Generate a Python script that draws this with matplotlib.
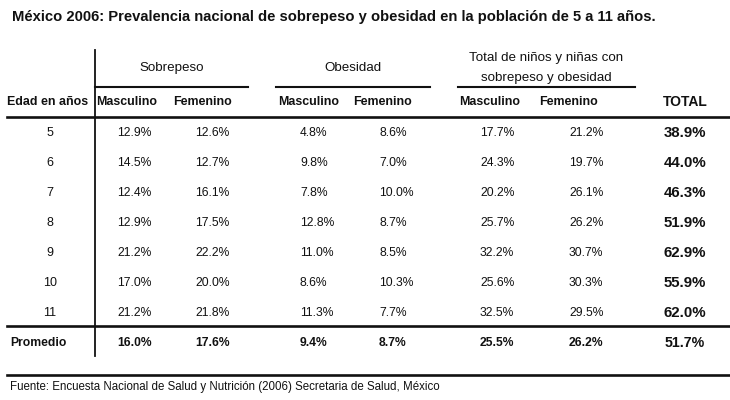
import matplotlib
matplotlib.use("Agg")
import matplotlib.pyplot as plt

plt.rcParams['font.family'] = ['Liberation Sans Narrow', 'Liberation Sans', 'DejaVu Sans']

title = "México 2006: Prevalencia nacional de sobrepeso y obesidad en la población de 5 a 11 años."
source = "Fuente: Encuesta Nacional de Salud y Nutrición (2006) Secretaria de Salud, México"

groups = ["Sobrepeso", "Obesidad", "Total de niños y niñas con\nsobrepeso y obesidad"]
sub_headers = ["Masculino", "Femenino", "Masculino", "Femenino", "Masculino", "Femenino", "TOTAL"]

ages = ["5", "6", "7", "8", "9", "10", "11"]
sobre_m = ["12.9%", "14.5%", "12.4%", "12.9%", "21.2%", "17.0%", "21.2%"]
sobre_f = ["12.6%", "12.7%", "16.1%", "17.5%", "22.2%", "20.0%", "21.8%"]
obes_m = ["4.8%", "9.8%", "7.8%", "12.8%", "11.0%", "8.6%", "11.3%"]
obes_f = ["8.6%", "7.0%", "10.0%", "8.7%", "8.5%", "10.3%", "7.7%"]
tot_m = ["17.7%", "24.3%", "20.2%", "25.7%", "32.2%", "25.6%", "32.5%"]
tot_f = ["21.2%", "19.7%", "26.1%", "26.2%", "30.7%", "30.3%", "29.5%"]
total = ["38.9%", "44.0%", "46.3%", "51.9%", "62.9%", "55.9%", "62.0%"]

avg_label = "Promedio"
avg_values = ["16.0%", "17.6%", "9.4%", "8.7%", "25.5%", "26.2%", "51.7%"]

columns = [sobre_m, sobre_f, obes_m, obes_f, tot_m, tot_f, total]

# layout in pixel units
W, H = 730, 400
col_left = [117, 195, 300, 379, 480, 569]
total_cx = 685
head_cx = [127, 203, 309, 383, 490, 568, 685]
group_span = [(95, 248), (276, 430), (458, 635)]
row_y0, row_dy = 133, 30
ink = "#111111"

fig = plt.figure(figsize=(W / 100, H / 100), dpi=100)
ax = fig.add_axes([0, 0, 1, 1])
ax.set_xlim(0, W)
ax.set_ylim(H, 0)
ax.axis("off")

ax.text(12, 17, title, fontsize=10.6, fontweight="bold", va="center", ha="left", color=ink)

# group headers
for (x0, x1), g in zip(group_span, groups):
    ax.text((x0 + x1) / 2, 68, g, fontsize=9.6, ha="center", va="center", color=ink,
            linespacing=1.85)
    ax.plot([x0, x1], [87, 87], color=ink, lw=1.5)

# column headers
ax.text(7, 102, "Edad en años", fontsize=8.9, fontweight="bold", va="center", ha="left", color=ink)
for cx, h in zip(head_cx, sub_headers):
    fs = 10 if h == "TOTAL" else 8.9
    ax.text(cx, 102, h, fontsize=fs, fontweight="bold", va="center", ha="center", color=ink)

# rows
for i, age in enumerate(ages):
    y = row_y0 + i * row_dy
    ax.text(50, y, age, fontsize=9, ha="center", va="center", color=ink)
    for j, col in enumerate(columns[:-1]):
        ax.text(col_left[j], y, col[i], fontsize=8.7, ha="left", va="center", color=ink)
    ax.text(total_cx, y, total[i], fontsize=10.8, fontweight="bold",
            ha="center", va="center", color=ink)

# average row
ay = 343
ax.text(10, ay, avg_label, fontsize=8.7, fontweight="bold", ha="left", va="center", color=ink)
for j, v in enumerate(avg_values[:-1]):
    ax.text(col_left[j], ay, v, fontsize=8.7, fontweight="bold",
            ha="left", va="center", color=ink)
ax.text(total_cx, ay, avg_values[-1], fontsize=10.2, fontweight="bold",
        ha="center", va="center", color=ink)

# rules
for yy in (117, 326, 375):
    ax.plot([7, W], [yy, yy], color=ink, lw=1.9)
ax.plot([95, 95], [50, 356], color=ink, lw=1.3)

ax.text(10, 387, source, fontsize=8.3, ha="left", va="center", color=ink)

fig.savefig("out.png", dpi=100, facecolor="white")
